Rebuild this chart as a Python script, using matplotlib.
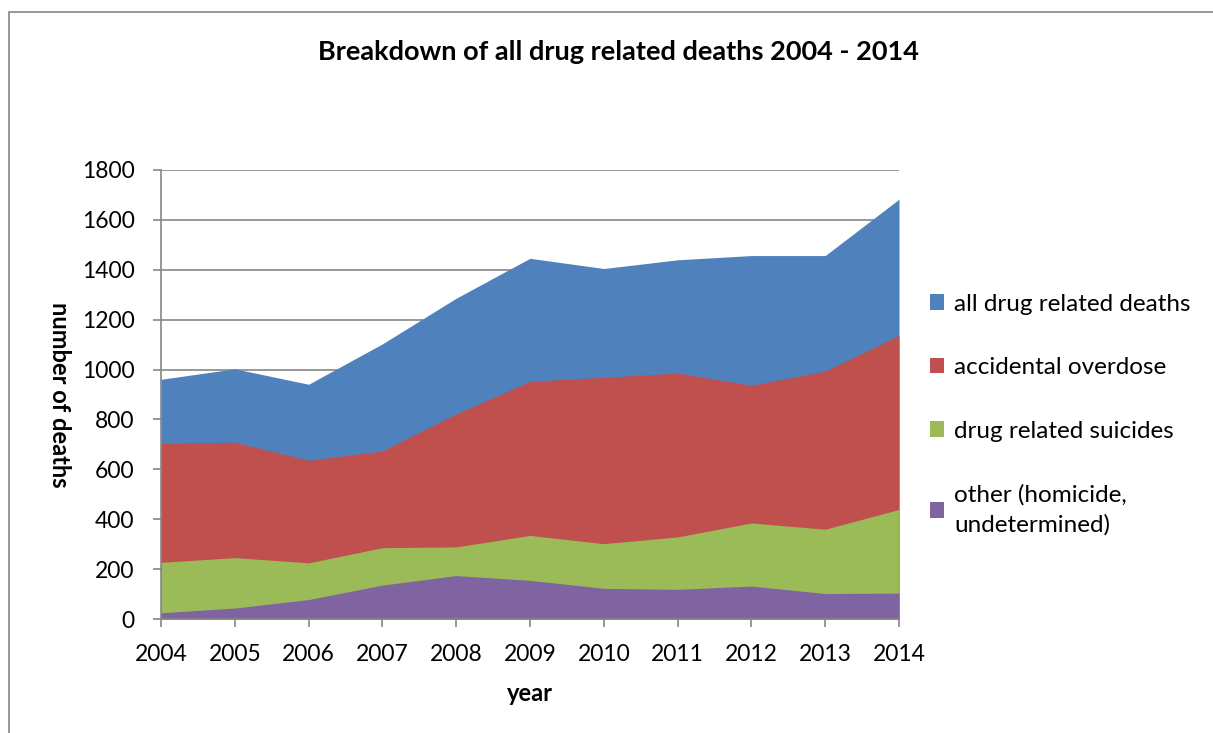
import numpy as np
import matplotlib.pyplot as plt
from matplotlib.patches import Rectangle

years = [2004, 2005, 2006, 2007, 2008, 2009, 2010, 2011, 2012, 2013, 2014]
all_deaths = [961, 1003, 941, 1103, 1286, 1446, 1405, 1440, 1457, 1457, 1683]
accidental = [704, 709, 636, 674, 822, 953, 969, 986, 937, 994, 1137]
suicides = [227, 246, 225, 286, 289, 335, 302, 329, 385, 360, 439]
other = [25, 44, 78, 136, 174, 155, 123, 119, 132, 102, 104]

series = [
    ("all drug related deaths", all_deaths, "#4F81BD"),
    ("accidental overdose", accidental, "#C0504D"),
    ("drug related suicides", suicides, "#9BBB59"),
    ("other (homicide,\nundetermined)", other, "#8064A2"),
]

plt.rcParams['font.family'] = ['Lato', 'DejaVu Sans']
grid_col = "#868686"

fig = plt.figure(figsize=(12.13, 7.33), dpi=100)
ax = fig.add_axes([161 / 1213, 1 - 619 / 733, (899 - 161) / 1213, (619 - 170) / 733])

x = np.arange(len(years))
for name, vals, col in series:
    ax.fill_between(x, 0, vals, color=col, linewidth=0, label=name, zorder=2)

ax.set_xlim(0, len(years) - 1)
ax.set_ylim(0, 1800)
ax.set_yticks(range(0, 1801, 200))
ax.set_xticks(x)
ax.set_xticklabels([str(y) for y in years])
ax.tick_params(labelsize=16.5, color=grid_col, length=6, width=1.2)
ax.tick_params(axis='x', pad=12)
ax.tick_params(axis='y', pad=13)
ax.yaxis.grid(True, color=grid_col, linewidth=1.2, zorder=0)
ax.set_axisbelow(True)
for side in ['top', 'right']:
    ax.spines[side].set_visible(False)
for side in ['left', 'bottom']:
    ax.spines[side].set_color(grid_col)
    ax.spines[side].set_linewidth(1.2)
    ax.spines[side].set_zorder(3)

ax.set_xlabel("year", fontsize=17, fontweight='bold')
ax.xaxis.set_label_coords(0.5, -0.14)
ax.set_ylabel("number of deaths", fontsize=17, fontweight='bold',
              rotation=-90, va='center')
ax.yaxis.set_label_coords(-0.137, 0.5)

fig.text(618 / 1213, 1 - 52 / 733, "Breakdown of all drug related deaths 2004 - 2014",
         ha='center', va='center', fontsize=19.5, fontweight='bold')

leg = ax.legend(loc='center left', bbox_to_anchor=(1.012, 0.455), frameon=False,
                fontsize=17.5, handlelength=0.6, handleheight=0.6,
                handletextpad=0.4, labelspacing=1.75)
for t in leg.get_texts():
    t.set_linespacing(1.5)

# chart border
fig.patches.append(Rectangle((9 / 1213, -0.1), 2, 1 - 12 / 733 + 0.1,
                             transform=fig.transFigure, fill=False,
                             edgecolor=grid_col, linewidth=1.2))

fig.savefig("out.png", dpi=100)
